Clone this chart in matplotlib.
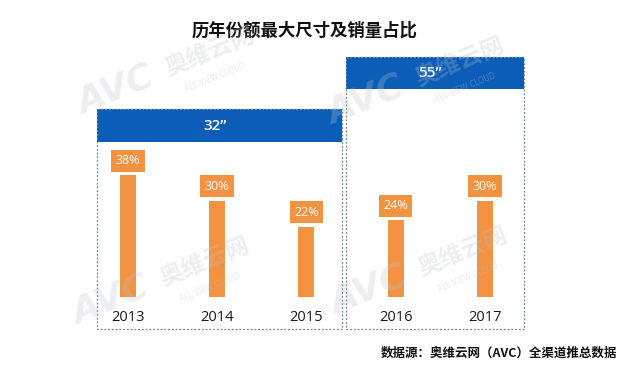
import matplotlib
matplotlib.use("Agg")
import matplotlib.pyplot as plt
from matplotlib.patches import Rectangle
from matplotlib.transforms import Affine2D

plt.rcParams['font.family'] = ['Noto Sans CJK SC', 'DejaVu Sans']

# ---- data ----
years = ["2013", "2014", "2015", "2016", "2017"]
shares = [38, 30, 22, 24, 30]
group_labels = ["32\u201d", "55\u201d"]
title = "历年份额最大尺寸及销量占比"
source = "数据源：奥维云网（AVC）全渠道推总数据"

W, H = 629, 368
BLUE = "#0B5DB7"
ORANGE = "#F39240"
BORDER = "#6C86A8"

fig = plt.figure(figsize=(W / 100, H / 100), dpi=100)
ax = fig.add_axes([0, 0, 1, 1])
ax.axis("off")

# pixel transform (origin top-left)
px = Affine2D().scale(1 / W, -1 / H).translate(0, 1) + fig.transFigure

# data scale: index spacing and value scale
x0, dx = 128.0, 89.2
ybot, ky = 297.0, 3.2
ax.set_xlim(-x0 / dx, (W - x0) / dx)
ax.set_ylim(-(H - ybot) / ky, ybot / ky)

xs = list(range(len(years)))
ax.bar(xs, shares, width=0.18, color=ORANGE, zorder=3)

for i, (y, v) in enumerate(zip(years, shares)):
    ax.annotate(f"{v}%", xy=(i, v), xytext=(0, 10.5), textcoords="offset points",
                ha="center", va="center", fontsize=9, color="white",
                family=["Open Sans", "DejaVu Sans"],
                bbox=dict(boxstyle="square,pad=0.36", fc=ORANGE, ec="none"), zorder=4)
    ax.annotate(y, xy=(i, 0), xytext=(0, -14.5), textcoords="offset points",
                ha="center", va="center", fontsize=10.5, color="#1a1a1a",
                family=["Open Sans", "DejaVu Sans"], zorder=4)

# group boxes (pixel coords)
boxes = [(97, 109, 342, 329, 142), (345.5, 57, 523.5, 329, 89)]
for (l, t, r, b, hb), lab in zip(boxes, group_labels):
    fig.add_artist(Rectangle((l, t), r - l, hb - t, transform=px, fc=BLUE, ec="none", zorder=1))
    fig.add_artist(Rectangle((l, t), r - l, b - t, transform=px, fc="none", ec=BORDER,
                             lw=0.9, ls=(0, (1.5, 1.5)), zorder=2))
    fig.text((l + r) / 2 - 5, (t + hb) / 2, lab, transform=px, ha="center", va="center",
             fontsize=11, fontweight="semibold", color="white",
             family=["Open Sans", "DejaVu Sans"], zorder=5)

# watermarks
wm_color = "#BCC3CE"
for cx, cy in [(115, 90), (110, 300), (365, 100), (368, 290)]:
    fig.text(cx, cy, "AVC", transform=px, ha="center", va="center", fontsize=26,
             fontweight="bold", style="italic", color=wm_color, alpha=0.28, rotation=22,
             family=["DejaVu Sans"], zorder=6)
    fig.text(cx + 95, cy - 38, "奥维云网", transform=px, ha="center", va="center", fontsize=17,
             fontweight="bold", color=wm_color, alpha=0.28, rotation=22, zorder=6)
    fig.text(cx + 100, cy - 12, "ALL VIEW CLOUD", transform=px, ha="center", va="center",
             fontsize=5.5, color=wm_color, alpha=0.35, rotation=22,
             family=["DejaVu Sans"], zorder=6)

fig.text(305, 31, title, transform=px, ha="center", va="center", fontsize=12.5,
         fontweight="heavy", color="#111111", zorder=5)
fig.text(617, 353, source, transform=px, ha="right", va="center", fontsize=9,
         fontweight="bold", color="#111111", zorder=5)

fig.savefig("out.png", dpi=100, facecolor="white")
